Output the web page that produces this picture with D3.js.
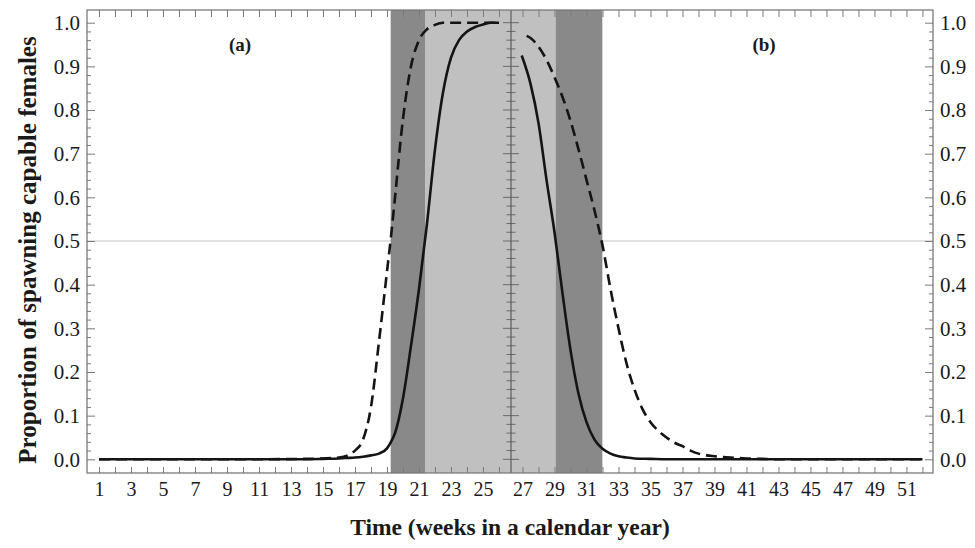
<!DOCTYPE html>
<html>
<head>
<meta charset="utf-8">
<script src="https://cdn.jsdelivr.net/npm/d3@7"></script>
<style>
  html, body { margin: 0; padding: 0; background: #fff; }
  svg { display: block; }
  text { font-family: "Liberation Serif", "Times New Roman", serif; }
</style>
</head>
<body>
<svg id="chart" width="975" height="548"></svg>
<script>
// ---------------- data ----------------
// Panel (a): weeks 1-26
const weeksA  = [1, 5, 10, 14, 15, 16, 16.5, 17, 17.5, 18, 18.5, 19, 19.25, 19.5, 20, 20.5, 21, 21.5, 22, 22.5, 23, 23.5, 24, 24.5, 25, 25.5, 26];
const dashedA = [0, 0, 0, 0.001, 0.002, 0.004, 0.008, 0.02, 0.045, 0.12, 0.27, 0.43, 0.51, 0.6, 0.78, 0.9, 0.96, 0.985, 0.995, 1, 1, 1, 1, 1, 1, 1, 1];
const solidA  = [0, 0, 0, 0, 0.001, 0.002, 0.003, 0.004, 0.006, 0.009, 0.013, 0.025, 0.04, 0.06, 0.14, 0.26, 0.39, 0.54, 0.71, 0.84, 0.92, 0.96, 0.98, 0.99, 0.996, 1, 1];

// Panel (b): weeks 27-52
const weeksSolidB  = [26.95, 27.5, 28, 28.5, 29, 29.5, 30, 30.5, 31, 31.5, 32, 32.5, 33, 33.5, 34, 35, 36, 40, 45, 52];
const solidB       = [0.925, 0.86, 0.77, 0.64, 0.52, 0.38, 0.25, 0.15, 0.085, 0.045, 0.024, 0.013, 0.007, 0.004, 0.002, 0.001, 0, 0, 0, 0];
const weeksDashedB = [27.26, 27.5, 28, 28.5, 29, 29.5, 30, 30.5, 31, 31.5, 32, 32.5, 33, 33.5, 34, 34.5, 35, 35.5, 36, 36.5, 37, 37.5, 38, 38.5, 39, 40, 41, 42, 43, 52];
const dashedB      = [0.97, 0.965, 0.945, 0.915, 0.875, 0.83, 0.775, 0.71, 0.64, 0.57, 0.49, 0.39, 0.30, 0.22, 0.16, 0.115, 0.085, 0.065, 0.05, 0.038, 0.03, 0.02, 0.013, 0.009, 0.007, 0.004, 0.002, 0.001, 0, 0];

// shaded week intervals (50 % crossing points)
const shadeDarkA  = [19.23, 21.375];
const shadeLightA = [21.375, 26.75];
const shadeLightB = [26.28, 29.07];
const shadeDarkB  = [29.07, 31.99];

// axis ticks
const weekTicksA = d3.range(1, 27);
const weekTicksB = d3.range(27, 53);
const yMajor = [0, 0.1, 0.2, 0.3, 0.4, 0.5, 0.6, 0.7, 0.8, 0.9, 1.0];
const yMinor = d3.range(0, 51).map(i => i / 50).filter(v => Math.round(v * 50) % 5 !== 0);
const refLevel = 0.5;
const panelLabels = ["(a)", "(b)"];
const yTitle = "Proportion of spawning capable females";
const xTitle = "Time (weeks in a calendar year)";

// ---------------- layout ----------------
const L = 87, R = 933, T = 10, B = 473, MID = 511;
const svg = d3.select("#chart");

const xA = d3.scaleLinear().domain([0.25, 26.75]).range([L, MID]);
const xB = d3.scaleLinear().domain([26.28, 52.66]).range([MID, R]);
const y  = d3.scaleLinear().domain([0, 1]).range([459.3, 22.7]);

const frameColor = "#7a7a7a";
const darkShade = "#898989";
const lightShade = "#c0c0c0";
const fontFam = "Liberation Serif, Times New Roman, serif";

// reference line at 0.5
svg.append("line")
  .attr("x1", L).attr("x2", R)
  .attr("y1", y(refLevel)).attr("y2", y(refLevel))
  .attr("stroke", "#c4c4c4").attr("stroke-width", 1.2);

// shading
function shade(scale, iv, color) {
  svg.append("rect")
    .attr("x", scale(iv[0])).attr("y", T)
    .attr("width", scale(iv[1]) - scale(iv[0])).attr("height", B - T)
    .attr("fill", color);
}
shade(xA, shadeDarkA, darkShade);
shade(xA, shadeLightA, lightShade);
shade(xB, shadeLightB, lightShade);
shade(xB, shadeDarkB, darkShade);

// x axes (bottom & top), inward ticks
function xAxis(scale, ticks) {
  const bottom = svg.append("g").attr("transform", `translate(0,${B})`)
    .call(d3.axisBottom(scale).tickValues(ticks).tickSize(-6).tickPadding(9)
      .tickFormat(d => d % 2 === 1 ? d : ""));
  bottom.attr("font-family", fontFam);
  bottom.select(".domain").remove();
  bottom.selectAll(".tick line").attr("stroke", frameColor);
  bottom.selectAll("text").attr("font-size", 20).attr("fill", "#1a1a1a");
  const top = svg.append("g").attr("transform", `translate(0,${T})`)
    .call(d3.axisTop(scale).tickValues(ticks).tickSize(-7).tickFormat(""));
  top.select(".domain").remove();
  top.selectAll(".tick line").attr("stroke", frameColor);
}
xAxis(xA, weekTicksA);
xAxis(xB, weekTicksB);

// y axes: left, right
function yAxisG(x, orientFn, size, minorSize) {
  const g = svg.append("g").attr("transform", `translate(${x},0)`);
  const maj = g.append("g").call(orientFn(y).tickValues(yMajor).tickSize(size).tickPadding(7)
    .tickFormat(d3.format(".1f")));
  maj.attr("font-family", fontFam);
  maj.select(".domain").remove();
  maj.selectAll(".tick line").attr("stroke", frameColor);
  maj.selectAll("text").attr("font-size", 21).attr("fill", "#1a1a1a");
  const mn = g.append("g").call(orientFn(y).tickValues(yMinor).tickSize(minorSize).tickFormat(""));
  mn.select(".domain").remove();
  mn.selectAll(".tick line").attr("stroke", frameColor);
  return g;
}
yAxisG(L, d3.axisLeft, -8, -4);
yAxisG(R, d3.axisRight, -8, -4);

// middle axis: ticks on both sides
const midG = svg.append("g");
midG.selectAll("line.maj").data(yMajor).join("line")
  .attr("x1", MID - 8).attr("x2", MID + 8)
  .attr("y1", d => y(d)).attr("y2", d => y(d))
  .attr("stroke", "#6a6a6a").attr("stroke-width", 1);
midG.selectAll("line.min").data(yMinor).join("line")
  .attr("x1", MID - 4.5).attr("x2", MID + 4.5)
  .attr("y1", d => y(d)).attr("y2", d => y(d))
  .attr("stroke", "#6a6a6a").attr("stroke-width", 1);
midG.append("line").attr("x1", MID).attr("x2", MID).attr("y1", T).attr("y2", B)
  .attr("stroke", "#5a5a5a").attr("stroke-width", 1.2);

// frame
svg.append("rect").attr("x", L).attr("y", T).attr("width", R - L).attr("height", B - T)
  .attr("fill", "none").attr("stroke", frameColor).attr("stroke-width", 1.3);

// curves
function curve(scale, xs, ys, dashed) {
  const line = d3.line().x((d, i) => scale(xs[i])).y(d => y(d)).curve(d3.curveMonotoneX);
  svg.append("path").datum(ys).attr("d", line)
    .attr("fill", "none").attr("stroke", "#141414").attr("stroke-width", 2.6)
    .attr("stroke-dasharray", dashed ? "11,6" : null);
}
curve(xA, weeksA, solidA, false);
curve(xA, weeksA, dashedA, true);
curve(xB, weeksSolidB, solidB, false);
curve(xB, weeksDashedB, dashedB, true);

// panel labels
svg.append("text").attr("x", 240).attr("y", 51).attr("text-anchor", "middle")
  .attr("font-size", 19).attr("font-weight", "bold").attr("fill", "#1a1a1a").text(panelLabels[0]);
svg.append("text").attr("x", 764).attr("y", 51).attr("text-anchor", "middle")
  .attr("font-size", 19).attr("font-weight", "bold").attr("fill", "#1a1a1a").text(panelLabels[1]);

// axis titles
svg.append("text").attr("transform", `translate(36,250) rotate(-90)`)
  .attr("text-anchor", "middle").attr("font-size", 25).attr("font-weight", "bold")
  .attr("fill", "#1a1a1a").text(yTitle);
svg.append("text").attr("x", 510).attr("y", 535).attr("text-anchor", "middle")
  .attr("font-size", 23.5).attr("font-weight", "bold").attr("fill", "#1a1a1a").text(xTitle);
</script>
</body>
</html>
